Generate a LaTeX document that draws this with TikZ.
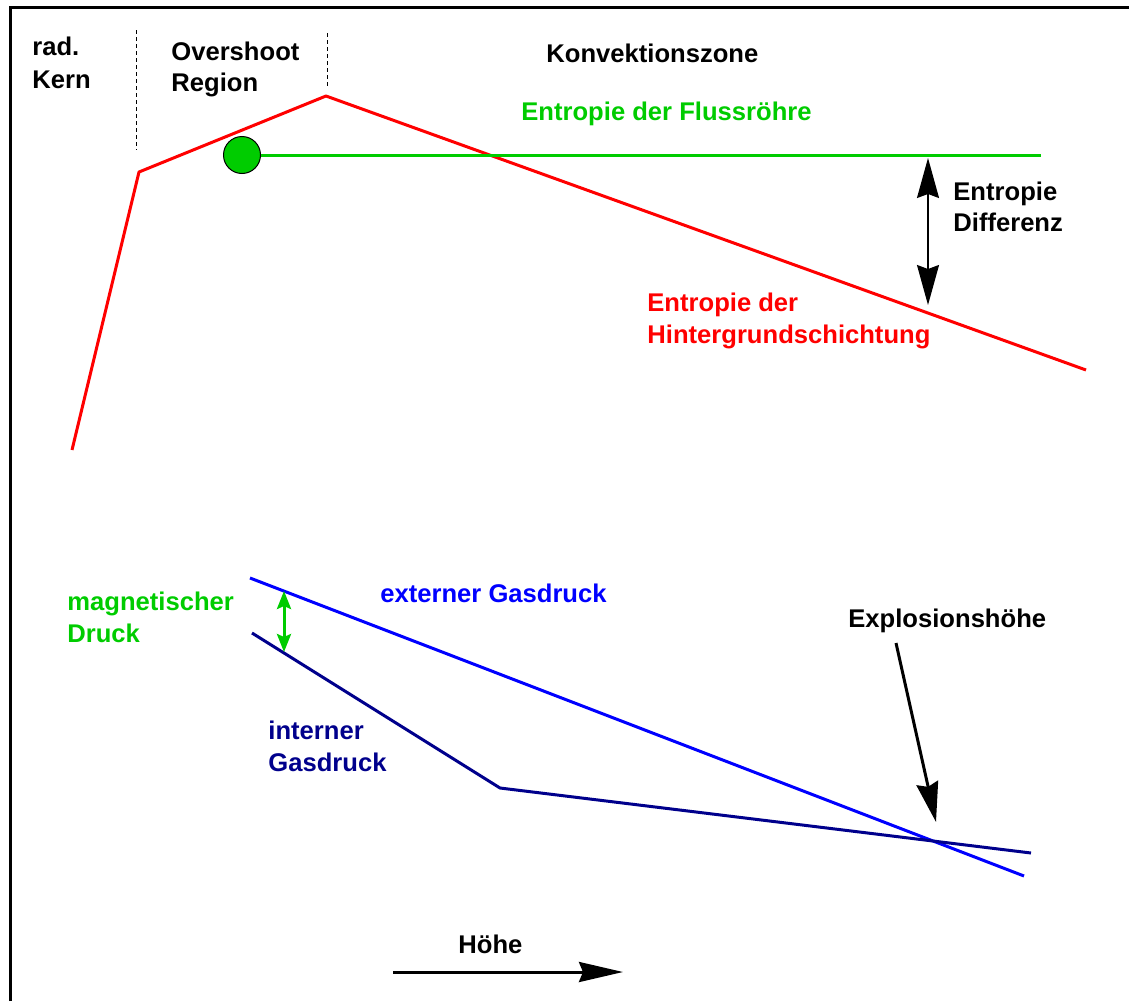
\documentclass[tikz,border=0pt]{standalone}
\usepackage{fontspec}
\setmainfont{Liberation Sans}
\usetikzlibrary{arrows.meta}
\definecolor{tubegreen}{RGB}{0,204,0}
\definecolor{gasblue}{RGB}{0,0,255}
\definecolor{gasnavy}{RGB}{0,0,140}
\tikzset{
  bigtip/.tip={Stealth[length=20pt,width=11pt,inset=2pt]},
  longtip/.tip={Stealth[length=22pt,width=10pt,inset=2pt]},
  smalltip/.tip={Stealth[length=9pt,width=7pt,inset=1.5pt]}}
\begin{document}
\begin{tikzpicture}[x=0.5pt,y=-0.5pt,
  txt/.style={anchor=base west,inner sep=0pt,align=left,
    font=\fontsize{12.8}{15.5}\selectfont\bfseries},
  zone/.style={line width=0.5pt,dash pattern=on 2pt off 1.5pt}]
\useasboundingbox (0,0) rectangle (1129,1001);
\draw[line width=1.5pt] (10,1001)--(10,7)--(1129,7);
\draw[zone] (136,30)--(136,150);
\draw[zone] (327,33)--(327,87);
\node[txt,font=\fontsize{12.8}{16.5}\selectfont\bfseries] (kern) at (32,88) {rad.\\Kern};
\node[txt] (overshoot) at (171,91) {Overshoot\\Region};
\node[txt] (konv) at (546,62) {Konvektionszone};
\node[txt,text=tubegreen] (flux) at (521,120) {Entropie der Flussröhre};
\node[txt] (diff) at (953,231) {Entropie\\Differenz};
\node[txt,text=red,font=\fontsize{12.8}{16}\selectfont\bfseries] (hinter) at (647,343) {Entropie der\\Hintergrundschichtung};
\coordinate (r1) at (72,450);
\coordinate (r2) at (139,172);
\coordinate (r3) at (326,96);
\coordinate (r4) at (1086,370);
\draw[red,line width=1.5pt,line join=round] (r1)--(r2)--(r3)--(r4);
\coordinate (g1) at (1041,155);
\node[circle,draw,fill=tubegreen,minimum size=18.5pt,inner sep=0pt,line width=0.5pt] (tube) at (242,155) {};
\draw[tubegreen,line width=1.5pt] (tube.east)--(g1);
\coordinate (dtop) at (928,158);
\coordinate (dbot) at (928,305);
\draw[line width=0.75pt,bigtip-bigtip] (dtop)--(dbot);
\node[txt,text=tubegreen,font=\fontsize{12.8}{16}\selectfont\bfseries] (magn) at (67,642) {magnetischer\\Druck};
\node[txt,text=gasblue] (ext) at (380,602) {externer Gasdruck};
\node[txt,text=gasnavy,font=\fontsize{12.8}{16}\selectfont\bfseries] (int) at (268,771) {interner\\Gasdruck};
\node[txt] (expl) at (848,627) {Explosionshöhe};
\node[txt] (hoehe) at (458,953) {Höhe};
\coordinate (b1) at (250,578);
\coordinate (b2) at (1024,876);
\draw[gasblue,line width=1.5pt] (b1)--(b2);
\coordinate (n1) at (252,633);
\coordinate (n2) at (500,788);
\coordinate (n3) at (1031,853);
\draw[gasnavy,line width=1.5pt] (n1)--(n2)--(n3);
\coordinate (mtop) at (284,591);
\coordinate (mbot) at (284,652);
\draw[tubegreen,line width=1.5pt,smalltip-smalltip] (mtop)--(mbot);
\coordinate (e1) at (896,643);
\coordinate (e2) at (936,822);
\draw[line width=1.5pt,-bigtip] (e1)--(e2);
\coordinate (h1) at (393,972);
\coordinate (h2) at (623,972);
\draw[line width=1.5pt,-longtip] (h1)--(h2);
\end{tikzpicture}
\end{document}
